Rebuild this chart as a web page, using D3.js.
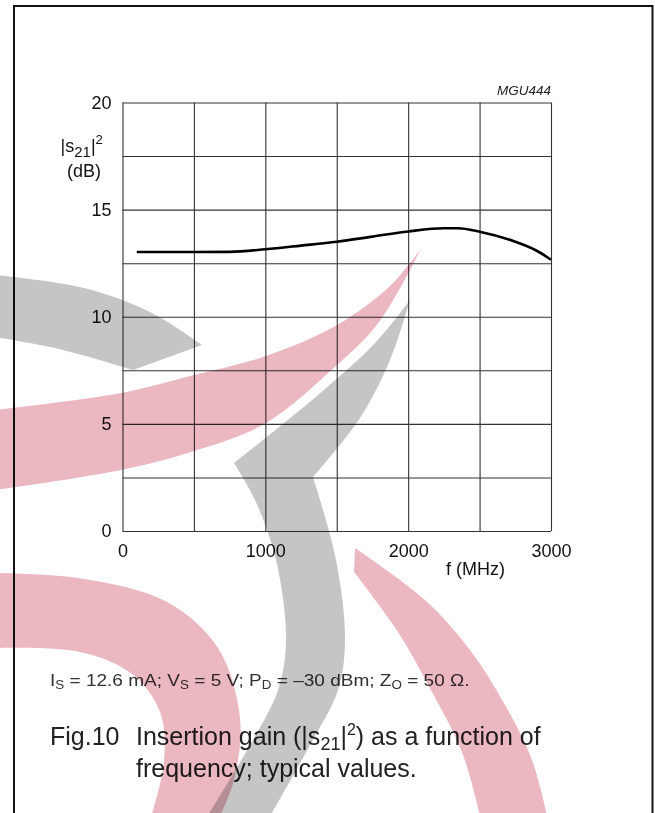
<!DOCTYPE html>
<html>
<head>
<meta charset="utf-8">
<script src="https://cdn.jsdelivr.net/npm/d3@7"></script>
<style>
  html, body { margin: 0; padding: 0; background: #fff; }
  svg { display: block; }
  text { font-family: "Liberation Sans", Arial, Helvetica, sans-serif; }
  .grid line { stroke: #333; stroke-width: 1.1; }
  .grid .domain { display: none; }
  .lbl .domain { display: none; }
  .lbl text { font-size: 18px; fill: #111; }
  .wm { mix-blend-mode: multiply; }
</style>
</head>
<body>
<div id="chart"></div>
<script>
// data
var freqMHz = [100, 250, 500, 750, 1000, 1250, 1500, 1750, 2000, 2250, 2350, 2500, 2750, 2900, 3000];
var gainDb  = [13.02, 13.02, 13.02, 13.03, 13.15, 13.32, 13.5, 13.74, 13.98, 14.13, 14.13, 13.97, 13.5, 13.08, 12.66];

var xGrid = [0, 500, 1000, 1500, 2000, 2500, 3000];
var yGrid = [0, 2.5, 5, 7.5, 10, 12.5, 15, 17.5, 20];
var xLabels = [0, 1000, 2000, 3000];
var yLabels = [0, 5, 10, 15, 20];

var W = 655, H = 813;
var margin = {left: 122.5, right: 104, top: 102.5, bottom: 282};
var width = W - margin.left - margin.right;
var height = H - margin.top - margin.bottom;

var svg = d3.select("#chart").append("svg")
    .attr("width", W)
    .attr("height", H);

// page frame (open at the bottom, like the scanned sheet)
svg.append("path")
    .attr("d", "M14,813 L14,6 L652.5,6 L652.5,813")
    .attr("fill", "none")
    .attr("stroke", "#111")
    .attr("stroke-width", 2);

var chart = svg.append("g")
    .attr("transform", "translate(" + margin.left + "," + margin.top + ")");

var x = d3.scaleLinear().domain([0, 3000]).range([0, width]);
var y = d3.scaleLinear().domain([0, 20]).range([height, 0]);

// grid
chart.append("g")
    .attr("class", "grid")
    .attr("transform", "translate(0," + height + ")")
    .call(d3.axisBottom(x).tickValues(xGrid).tickSize(-height).tickFormat(""));

chart.append("g")
    .attr("class", "grid")
    .call(d3.axisLeft(y).tickValues(yGrid).tickSize(-width).tickFormat(""));

// tick labels
chart.append("g")
    .attr("class", "lbl")
    .attr("transform", "translate(0," + height + ")")
    .call(d3.axisBottom(x).tickValues(xLabels).tickSize(0).tickPadding(13).tickFormat(d3.format("d")));

chart.append("g")
    .attr("class", "lbl")
    .call(d3.axisLeft(y).tickValues(yLabels).tickSize(0).tickPadding(11).tickFormat(d3.format("d")));

// curve
var line = d3.line()
    .x(function (d, i) { return x(freqMHz[i]); })
    .y(function (d) { return y(d); })
    .curve(d3.curveMonotoneX);

chart.append("path")
    .datum(gainDb)
    .attr("fill", "none")
    .attr("stroke", "#000")
    .attr("stroke-width", 2.6)
    .attr("d", line);

// axis titles
var yt = chart.append("text")
    .attr("x", 60.5 - margin.left)
    .attr("y", 151.5 - margin.top)
    .attr("font-size", 18)
    .attr("fill", "#111");
yt.append("tspan").text("|s");
yt.append("tspan").attr("font-size", 15).attr("dy", 5).text("21");
yt.append("tspan").attr("dy", -5).text("|");
yt.append("tspan").attr("font-size", 13).attr("dy", -7.5).text("2");

chart.append("text")
    .attr("x", 67 - margin.left)
    .attr("y", 177 - margin.top)
    .attr("font-size", 18)
    .attr("fill", "#111")
    .text("(dB)");

chart.append("text")
    .attr("x", x(2500) - 4)
    .attr("y", height + 44)
    .attr("text-anchor", "middle")
    .attr("font-size", 18)
    .attr("fill", "#111")
    .text("f (MHz)");

chart.append("text")
    .attr("x", width)
    .attr("y", -8)
    .attr("text-anchor", "end")
    .attr("font-size", 13.5)
    .attr("font-style", "italic")
    .attr("fill", "#222")
    .text("MGU444");

// conditions line
var cond = svg.append("text")
    .attr("x", 50)
    .attr("y", 686)
    .attr("font-size", 17)
    .attr("fill", "#333");
[["I", "S", " = 12.6 mA; "], ["V", "S", " = 5 V; "], ["P", "D", " = \u201330 dBm; "], ["Z", "O", " = 50 \u03A9."]]
    .forEach(function (p) {
        cond.append("tspan").text(p[0]);
        cond.append("tspan").attr("font-size", 12).attr("dy", 3.5).text(p[1]);
        cond.append("tspan").attr("dy", -3.5).text(p[2]);
    });
var condW = cond.node().getComputedTextLength();
cond.attr("transform", "translate(50,0) scale(" + (420 / condW) + ",1) translate(-50,0)");

// caption
var cap = svg.append("g").attr("fill", "#222").attr("font-size", 25);
cap.append("text").attr("x", 50).attr("y", 745).text("Fig.10");
var c1 = cap.append("text").attr("x", 136).attr("y", 745);
c1.append("tspan").text("Insertion gain (|s");
c1.append("tspan").attr("font-size", 18).attr("dy", 5).text("21");
c1.append("tspan").attr("dy", -5).text("|");
c1.append("tspan").attr("font-size", 16).attr("dy", -10).text("2");
c1.append("tspan").attr("dy", 10).text(") as a function of");
cap.append("text").attr("x", 136).attr("y", 777).text("frequency; typical values.");

// watermark swooshes (page decoration, pixel space); each shape is a chain of smooth edges
var pink = "#ebb8c2", grey = "#c5c5c5";
var shapes = [
    {c: grey, e: [[[-5, 275], [84, 288], [150, 312], [202, 345]],
                  [[202, 345], [133, 370]],
                  [[133, 370], [63, 350], [-5, 337]]]},
    {c: pink, e: [[[-5, 410], [121, 393], [194, 375], [266, 356], [337, 325], [390, 286], [420, 250]],
                  [[420, 250], [409, 272], [376, 326], [337, 365], [266, 423], [194, 451], [121, 470], [-5, 490]]]},
    {c: grey, e: [[[410, 300], [376, 342], [318, 395], [234, 463]],
                  [[234, 463], [255, 500], [276, 560], [286, 640], [278, 690], [250, 745], [205, 820]],
                  [[205, 820], [268, 820]],
                  [[268, 820], [310, 745], [338, 690], [345, 640], [336, 560], [313, 477]],
                  [[313, 477], [360, 418], [390, 360], [410, 300]]]},
    {c: pink, e: [[[355, 548], [425, 600], [470, 650], [505, 705], [532, 760], [548, 820]],
                  [[548, 820], [481, 820]],
                  [[481, 820], [462, 752], [432, 692], [398, 632], [354, 572]]]},
    {c: pink, e: [[[-5, 573], [84, 579], [167, 602], [218, 648], [240, 718], [234, 780], [218, 820]],
                  [[218, 820], [150, 820]],
                  [[150, 820], [164, 762], [160, 712], [132, 674], [80, 652], [-5, 648]]]}
];
var edge = d3.line().curve(d3.curveCatmullRom.alpha(0.5));
function shapePath(s) {
    return s.e.map(function (pts, i) {
        var d = edge(pts);
        return i === 0 ? d : "L" + d.slice(1);
    }).join("") + "Z";
}
svg.append("g")
    .selectAll("path")
    .data(shapes)
    .enter().append("path")
    .attr("class", "wm")
    .attr("fill", function (d) { return d.c; })
    .attr("d", shapePath);
</script>
</body>
</html>
